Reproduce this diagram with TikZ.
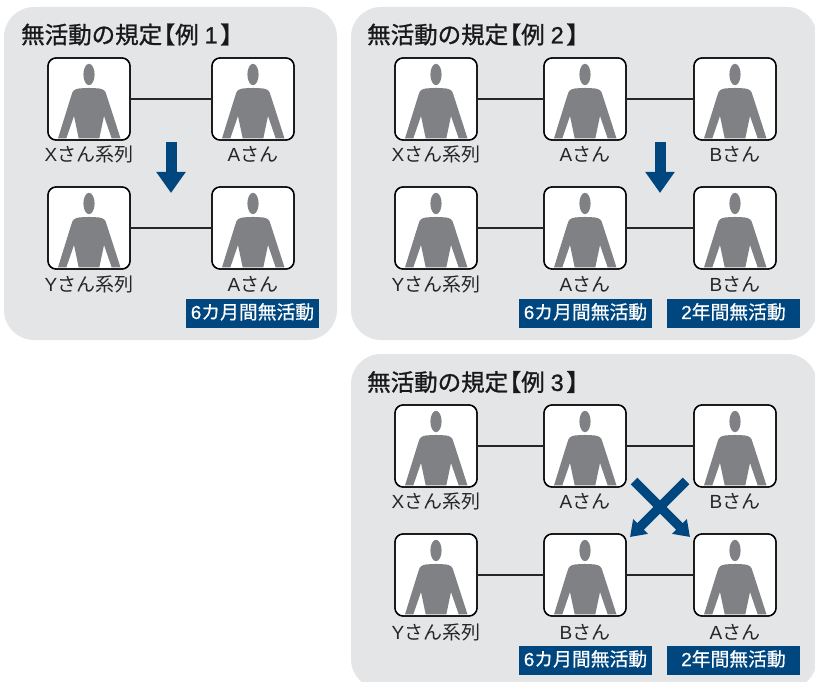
\documentclass[tikz,border=0pt]{standalone}
\usepackage{fontspec}
\setmainfont{Noto Sans CJK JP}
\newfontfamily\lat{Liberation Sans}
\newfontfamily\badgefont[FakeBold=0.6]{Noto Sans CJK JP}
\newfontfamily\latbadge[FakeBold=0.6]{Liberation Sans}
\newfontfamily\headfont[FakeBold=1.1]{Noto Sans CJK JP}
\newfontfamily\lathead[FakeBold=0.9]{Liberation Sans}
\usetikzlibrary{arrows.meta}
\definecolor{panelgray}{HTML}{E4E5E7}
\definecolor{persongray}{HTML}{808184}
\definecolor{navy}{HTML}{00467F}
\tikzset{
  panel/.style={fill=panelgray,draw=none,rounded corners=30pt},
  personbox/.style={draw=black,line width=1.3pt,fill=white,rounded corners=8pt,minimum width=82pt,minimum height=82pt,inner sep=0pt,outer sep=0pt},
  link/.style={draw=black!85,line width=1.2pt},
  caption/.style={inner sep=0pt,font=\fontsize{19}{21}\selectfont,text=black!85},
  heading/.style={inner sep=0pt,anchor=west,font=\fontsize{23.5}{26}\headfont,text=black!90},
  badge/.style={fill=navy,text=white,inner sep=0pt,text height=14pt,text depth=3pt,minimum height=29pt,font=\fontsize{18.8}{20}\badgefont},
  bigarrow/.style={draw=navy,line width=11pt,-{Triangle[length=21pt,width=28pt]}},
  crossarrow/.style={draw=navy,line width=9.5pt,-{Triangle[length=15pt,width=20pt]}},
}
\newcommand{\personfig}[5][55.5]{% caption offset, name, cx, cy, caption
  \node[personbox] (#2) at (#3,#4) {};
  \begin{scope}[shift={(#3-41,#4-41)}]
    \fill[persongray] (41,16.5) ellipse [x radius=5.6,y radius=10.7];
    \fill[persongray] (10,80.4) -- (23.5,37) .. controls (24.5,32.5) and (27,31) .. (31,30.5)
      .. controls (37,29.8) and (45,29.8) .. (51,30.5)
      .. controls (55,31) and (57.5,32.5) .. (58.5,37) -- (72.5,80.4) -- (63.7,80.4) -- (56,58)
      -- (51.3,80.4) -- (30.7,80.4) -- (26,58) -- (18.3,80.4) -- cycle;
  \end{scope}
  \node[personbox,fill=none] at (#3,#4) {};
  \node[caption] at (#3,#4+#1) {#5};
}
\newcommand{\Xs}{{\lat X}さん系列}
\newcommand{\Ys}{{\lat Y}さん系列}
\newcommand{\As}{{\lat A}さん}
\newcommand{\Bs}{{\lat B}さん}
\newcommand{\headtext}[1]{無活動の規定\hspace{-10.5pt}【例\hspace{6pt}{\lathead #1}\hspace{2.5pt}】}
\begin{document}
\begin{tikzpicture}[x=1pt,y=-1pt]
\useasboundingbox (0,0) rectangle (815,682);
\begin{scope}
\clip (0,0) rectangle (815,682);
\fill[panel] (4,7) rectangle (337,340);
\fill[panel] (351,7) rectangle (817,340);
\fill[panel] (351,354) rectangle (817,689);
\end{scope}
\node[heading] (t1) at (21,34.5) {\headtext{1}};
\node[heading] (t2) at (367,34.5) {\headtext{2}};
\node[heading] (t3) at (367,382) {\headtext{3}};
% panel 1
\personfig{aa}{89}{99}{\Xs}
\personfig{ab}{253}{99}{\As}
\personfig[56.5]{ac}{89}{228}{\Ys}
\personfig[56.5]{ad}{253}{228}{\As}
\draw[link] (aa) -- (ab);
\draw[link] (ac) -- (ad);
\coordinate (a1) at (171,142);
\coordinate (a2) at (171,193);
\draw[bigarrow] (a1) -- (a2);
\node[badge,minimum width=133pt] (ba) at (252.5,313.5) {{\latbadge 6}カ月間無活動};
% panel 2
\personfig{ba1}{436}{99}{\Xs}
\personfig{ba2}{585}{99}{\As}
\personfig{ba3}{735}{99}{\Bs}
\personfig[56.5]{bb1}{436}{228}{\Ys}
\personfig[56.5]{bb2}{585}{228}{\As}
\personfig[56.5]{bb3}{735}{228}{\Bs}
\draw[link] (ba1) -- (ba2);
\draw[link] (ba2) -- (ba3);
\draw[link] (bb1) -- (bb2);
\draw[link] (bb2) -- (bb3);
\coordinate (b1) at (660,142);
\coordinate (b2) at (660,193);
\draw[bigarrow] (b1) -- (b2);
\node[badge,minimum width=133pt] (bc) at (585.5,313.5) {{\latbadge 6}カ月間無活動};
\node[badge,minimum width=133pt] (bd) at (733.5,313.5) {{\latbadge 2}年間無活動};
% panel 3
\personfig{ca1}{436}{446}{\Xs}
\personfig{ca2}{585}{446}{\As}
\personfig{ca3}{735}{446}{\Bs}
\personfig[57]{cb1}{436}{575}{\Ys}
\personfig[57]{cb2}{585}{575}{\Bs}
\personfig[57]{cb3}{735}{575}{\As}
\draw[link] (ca1) -- (ca2);
\draw[link] (ca2) -- (ca3);
\draw[link] (cb1) -- (cb2);
\draw[link] (cb2) -- (cb3);
\coordinate (c1) at (686,481);
\coordinate (c2) at (630,537);
\coordinate (c3) at (634,481);
\coordinate (c4) at (690,537);
\draw[crossarrow] (c1) -- (c2);
\draw[crossarrow] (c3) -- (c4);
\node[badge,minimum width=133pt] (cc) at (585.5,660.5) {{\latbadge 6}カ月間無活動};
\node[badge,minimum width=133pt] (cd) at (733.5,660.5) {{\latbadge 2}年間無活動};
\end{tikzpicture}
\end{document}
